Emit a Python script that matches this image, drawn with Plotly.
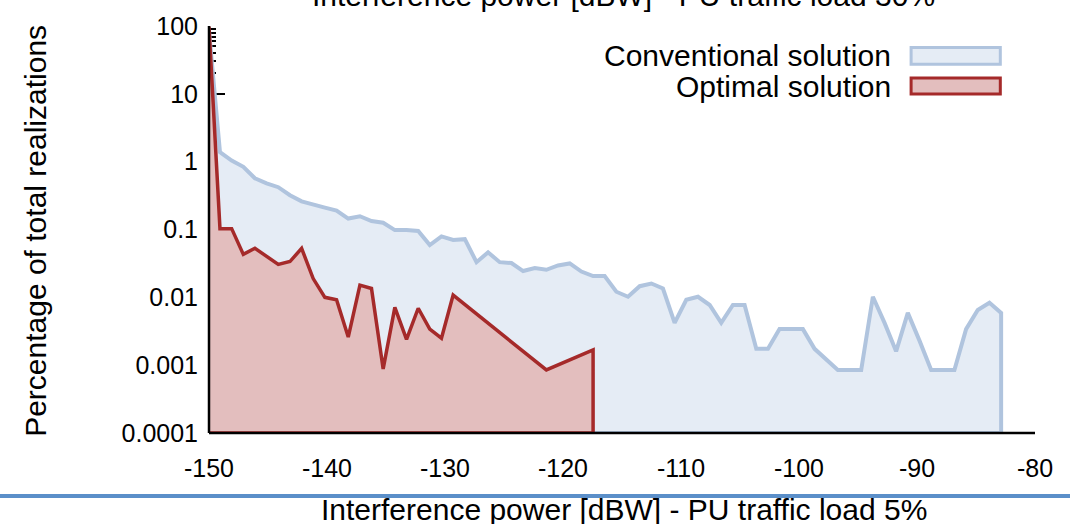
import plotly.graph_objects as go

# interference power bins [dBW]
conv_x = [-150, -149.07, -148.08, -147.09, -146.11, -145.12, -144.13, -143.14, -142.15,
          -141.17, -140.18, -139.19, -138.20, -137.21, -136.23, -135.24, -134.25, -133.26,
          -132.27, -131.29, -130.30, -129.31, -128.32, -127.33, -126.35, -125.36, -124.37,
          -123.38, -122.39, -121.41, -120.42, -119.43, -118.44, -117.45, -116.47, -115.48,
          -114.49, -113.50, -112.51, -111.53, -110.54, -109.55, -108.56, -107.57, -106.59,
          -105.60, -104.61, -103.62, -102.63, -101.65, -100.66, -99.67, -98.68, -97.69,
          -96.71, -95.72, -94.73, -93.74, -92.75, -91.77, -90.78, -89.79, -88.80, -87.81,
          -86.83, -85.84, -84.85, -83.86, -82.87]
conv_y = [85, 1.38, 1.04, 0.84, 0.57, 0.48, 0.42, 0.32, 0.26, 0.23, 0.21, 0.19, 0.145,
          0.157, 0.133, 0.126, 0.098, 0.098, 0.095, 0.059, 0.079, 0.070, 0.072, 0.033,
          0.046, 0.033, 0.032, 0.0244, 0.027, 0.0255, 0.0295, 0.0316, 0.024, 0.0206,
          0.0206, 0.0121, 0.0102, 0.0146, 0.016, 0.0135, 0.0042, 0.0092, 0.0102, 0.0077,
          0.0042, 0.0077, 0.0077, 0.00174, 0.00174, 0.0034, 0.0034, 0.0034, 0.00174,
          0.00123, 0.00085, 0.00085, 0.00085, 0.0102, 0.0042, 0.0016, 0.0059, 0.0023,
          0.00085, 0.00085, 0.00085, 0.0034, 0.0065, 0.0083, 0.0059]

opt_x = [-150, -149.07, -148.08, -147.09, -146.11, -145.12, -144.13, -143.14, -142.15,
         -141.17, -140.18, -139.19, -138.20, -137.21, -136.23, -135.24, -134.25, -133.26,
         -132.27, -131.29, -130.30, -129.31, -121.41, -117.45]
opt_y = [98, 0.103, 0.103, 0.043, 0.053, 0.040, 0.0305, 0.0337, 0.0526, 0.0189, 0.010,
         0.0092, 0.0026, 0.0151, 0.0135, 0.00088, 0.0071, 0.0024, 0.0069, 0.0034, 0.0025,
         0.0108, 0.00085, 0.00168]

y_ticks = [100, 10, 1, 0.1, 0.01, 0.001, 0.0001]
y_tick_text = ["100", "10", "1", "0.1", "0.01", "0.001", "0.0001"]
x_ticks = [-150, -140, -130, -120, -110, -100, -90, -80]
x_tick_text = ["-150", "-140", "-130", "-120", "-110", "-100", "-90", "-80"]

y_floor = 0.0001
font_name = "Liberation Sans, Arial, sans-serif"

fig = go.Figure()

fig.add_trace(go.Scatter(
    x=conv_x + [conv_x[-1], conv_x[0]],
    y=conv_y + [y_floor, y_floor],
    fill="toself",
    fillcolor="#e5ecf5",
    line=dict(color="#b0c4de", width=4),
    mode="lines",
    name="Conventional solution",
    showlegend=False
))

fig.add_trace(go.Scatter(
    x=opt_x + [opt_x[-1], opt_x[0]],
    y=opt_y + [y_floor, y_floor],
    fill="toself",
    fillcolor="#e3bebe",
    line=dict(color="#a52a2a", width=3.5),
    mode="lines",
    name="Optimal solution",
    showlegend=False
))

fig.update_xaxes(
    range=[-150, -80],
    tickvals=x_ticks,
    ticktext=x_tick_text,
    ticks="inside",
    ticklen=14,
    tickwidth=2,
    tickcolor="black",
    showgrid=False,
    zeroline=False,
    showline=False,
    layer="below traces",
    ticklabelstandoff=18,
    tickfont=dict(size=25, color="black", family=font_name)
)

fig.update_yaxes(
    type="log",
    range=[-4, 2],
    tickvals=y_ticks,
    ticktext=y_tick_text,
    ticks="inside",
    ticklen=16,
    tickwidth=2,
    tickcolor="black",
    minor=dict(ticks="inside", ticklen=7, tickwidth=2, tickcolor="black", dtick="D1"),
    showgrid=False,
    zeroline=False,
    showline=False,
    layer="below traces",
    ticklabelstandoff=10,
    tickfont=dict(size=25, color="black", family=font_name)
)

# axis lines on top of the fills
fig.add_shape(type="line", xref="paper", yref="paper", x0=0, x1=0, y0=0, y1=1,
              line=dict(color="black", width=2.5))
fig.add_shape(type="line", xref="paper", yref="paper", x0=0, x1=1, y0=0, y1=0,
              line=dict(color="black", width=2.5))

# page separator line
fig.add_shape(type="line", xref="paper", yref="paper", x0=-0.26, x1=1.05, y0=-0.155, y1=-0.155,
              line=dict(color="#5b8fc9", width=4))

# legend drawn by hand: text left of swatch
legend_items = [("Conventional solution", "#e5ecf5", "#b0c4de", 0.947, 0.906),
                ("Optimal solution", "#e3bebe", "#a52a2a", 0.872, 0.833)]
for label, fillc, linec, y1, y0 in legend_items:
    fig.add_shape(type="rect", xref="paper", yref="paper", x0=0.85, x1=0.958, y0=y0, y1=y1,
                  fillcolor=fillc, line=dict(color=linec, width=3))
    fig.add_annotation(text=label, xref="paper", yref="paper", x=0.828, y=(y0 + y1) / 2,
                       xanchor="right", yanchor="middle", showarrow=False,
                       font=dict(size=30, color="black", family=font_name))

fig.add_annotation(text="Percentage of total realizations", xref="paper", yref="paper",
                   x=-0.211, y=0.496, textangle=-90, showarrow=False,
                   xanchor="center", yanchor="middle",
                   font=dict(size=30, color="black", family=font_name))

fig.add_annotation(text="Interference power [dBW] - PU traffic load 5%", xref="paper", yref="paper",
                   x=0.502, y=-0.188, showarrow=False, xanchor="center", yanchor="middle",
                   font=dict(size=30, color="black", family=font_name))

fig.add_annotation(text="Interference power [dBW] - PU traffic load 30%", xref="paper", yref="paper",
                   x=0.502, y=1.074, showarrow=False, xanchor="center", yanchor="middle",
                   font=dict(size=30, color="black", family=font_name))

fig.update_layout(
    width=1070,
    height=524,
    margin=dict(l=209, r=35, t=20, b=91),
    plot_bgcolor="white",
    paper_bgcolor="white",
    showlegend=False
)

fig.write_html("out.html", config={"displayModeBar": False},
               post_script="document.body.style.margin = '0';")
